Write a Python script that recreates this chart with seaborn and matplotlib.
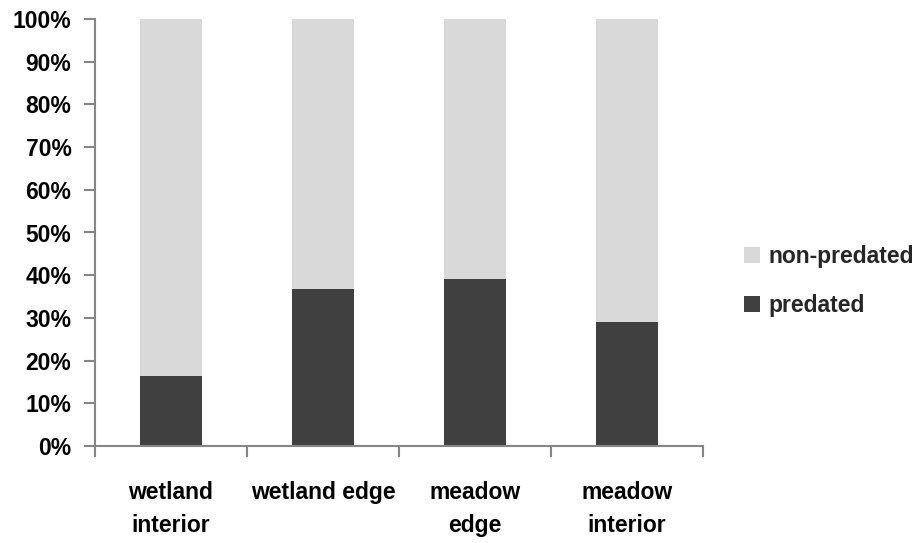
import matplotlib
matplotlib.use("Agg")
import matplotlib.pyplot as plt
from matplotlib.patches import Patch
from matplotlib.ticker import FixedLocator, PercentFormatter
import numpy as np
import pandas as pd
import seaborn as sns

# Nest fate by habitat zone (% of nests)
categories = ["wetland\ninterior", "wetland edge", "meadow\nedge", "meadow\ninterior"]
predated = [16.3, 36.7, 39.1, 29.0]
non_predated = [83.7, 63.3, 60.9, 71.0]
y_ticks = [0, 10, 20, 30, 40, 50, 60, 70, 80, 90, 100]

dark = "#404040"
light = "#d9d9d9"
axis_grey = "#868686"

sns.set_theme(style="white")
plt.rcParams["font.family"] = ["Liberation Sans", "DejaVu Sans"]
plt.rcParams["font.weight"] = "bold"

df = pd.DataFrame({
    "zone": categories,
    "predated": predated,
    "non_predated": non_predated,
})
df["total"] = df["predated"] + df["non_predated"]

fig = plt.figure(figsize=(9.2, 5.43), dpi=100)
ax = fig.add_axes([95 / 920, 1 - 446 / 543, (703 - 95) / 920, (446 - 19) / 543])

bar_w = 0.41
sns.barplot(data=df, x="zone", y="total", color=light, width=bar_w,
            saturation=1, ax=ax, linewidth=0)
sns.barplot(data=df, x="zone", y="predated", color=dark, width=bar_w,
            saturation=1, ax=ax, linewidth=0)

ax.set_xlim(-0.5, len(categories) - 0.5)
ax.set_ylim(0, 100)
ax.set_xlabel("")
ax.set_ylabel("")

ax.yaxis.set_major_locator(FixedLocator(y_ticks))
ax.yaxis.set_major_formatter(PercentFormatter(decimals=0))

# category boundaries carry the tick marks on the x axis
ax.set_xticks(np.arange(-0.5, len(categories), 1.0), minor=True)
ax.tick_params(axis="x", which="major", length=0, pad=25, labelsize=16.5)
ax.tick_params(axis="x", which="minor", length=8, width=1.5, color=axis_grey,
               direction="out", bottom=True)
ax.tick_params(axis="y", which="major", length=8, width=1.5, color=axis_grey,
               direction="out", left=True, pad=9, labelsize=16.5)
for lab in ax.get_xticklabels() + ax.get_yticklabels():
    lab.set_fontweight("bold")
    lab.set_color("black")
for lab in ax.get_xticklabels():
    lab.set_linespacing(1.55)

for side in ["top", "right"]:
    ax.spines[side].set_visible(False)
for side in ["left", "bottom"]:
    ax.spines[side].set_color(axis_grey)
    ax.spines[side].set_linewidth(1.5)

handles = [Patch(facecolor=light, edgecolor="none", label="non-predated"),
           Patch(facecolor=dark, edgecolor="none", label="predated")]
fig.legend(handles=handles, loc="center left",
           bbox_to_anchor=(744 / 920, 1 - 281 / 543),
           frameon=False, prop={"size": 16.5, "weight": "bold"},
           handlelength=0.7, handleheight=0.7, handletextpad=0.38,
           labelspacing=1.12, borderaxespad=0, borderpad=0)

fig.savefig("out.png", dpi=100)
